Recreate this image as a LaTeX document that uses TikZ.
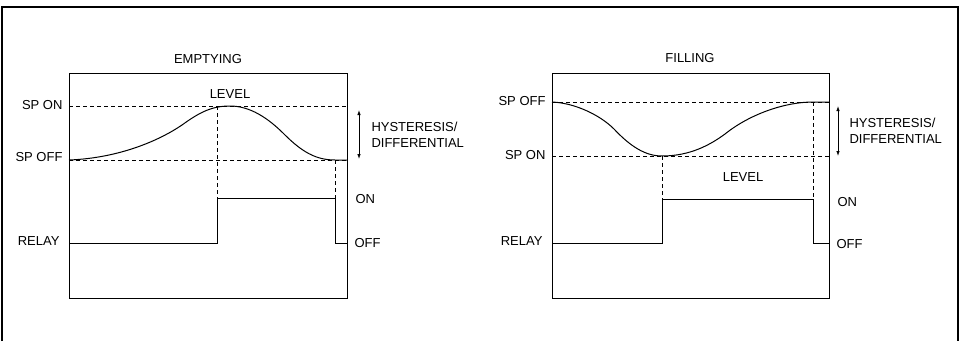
\documentclass[tikz,border=0pt]{standalone}
\usepackage{fontspec}
\setmainfont{Liberation Sans}
\usetikzlibrary{positioning,calc,arrows.meta}

\begin{document}
\begin{tikzpicture}[x=1pt, y=-1pt, line width=1pt,
  lbl/.style={inner sep=0pt, font=\fontsize{13}{16}\selectfont},
  dashline/.style={dash pattern=on 4pt off 3pt, line width=0.9pt},
  hyst/.style={{Latex[length=5pt,width=3.5pt]}-{Latex[length=5pt,width=3.5pt]}, line width=0.8pt}]
\useasboundingbox (0,0) rectangle (964,341);

% outer frame
\draw[line width=2pt] (2,341) -- (2,7) -- (958,7) -- (958,341);

% ---- emptying ----
\draw (69,73) rectangle (347,298);
\node[lbl] (etitle) at (208,59) {EMPTYING};
\node[lbl] (elevel) at (230,94) {LEVEL};
\node[lbl, anchor=east] (espon) at (63,105) {SP ON};
\node[lbl, anchor=east] (espoff) at (63,157) {SP OFF};
\node[lbl, anchor=east] (erelay) at (60,241) {RELAY};
\node[lbl, anchor=west] (eon) at (355,199) {ON};
\node[lbl, anchor=west] (eoff) at (354,243) {OFF};
\node[lbl, anchor=west, align=left] (ehyst) at (371,135) {HYSTERESIS/\\DIFFERENTIAL};

\coordinate (eonl) at (69,106);  \coordinate (eonr) at (347,106);
\coordinate (eoffl) at (69,160); \coordinate (eoffr) at (347,160);
\coordinate (epeak) at (230,106);
\coordinate (elow) at (335,160);
\coordinate (eup) at (217,106);
\coordinate (erise) at (217,198);
\coordinate (efall) at (335,198);
\coordinate (ha) at (359,110); \coordinate (hb) at (359,159);

\draw[dashline] (eonl) -- (eonr);
\draw[dashline] (eoffl) -- (eoffr);
\draw[dashline] (eup) -- (erise);
\draw[dashline] (elow) -- (efall);
\draw (eoffl) .. controls (120,158) and (160,140) .. (182,125)
  .. controls (200,112) and (212,106) .. (epeak)
  .. controls (250,106) and (268,118) .. (284,134)
  .. controls (302,152) and (316,160) .. (elow) -- (eoffr);
\draw (69,243) -- (217,243) -- (erise) -- (efall) -- (335,243) -- (347,243);
\draw[hyst] (ha) -- (hb);

% ---- filling ----
\draw (552,73) rectangle (829,298);
\node[lbl] (ftitle) at (690,58) {FILLING};
\node[lbl] (flevel) at (743,177) {LEVEL};
\node[lbl, anchor=east] (fspoff) at (546,101) {SP OFF};
\node[lbl, anchor=east] (fspon) at (546,155) {SP ON};
\node[lbl, anchor=east] (frelay) at (543,241) {RELAY};
\node[lbl, anchor=west] (fon) at (837,202) {ON};
\node[lbl, anchor=west] (foff) at (836,244) {OFF};
\node[lbl, anchor=west, align=left] (fhyst) at (849,131) {HYSTERESIS/\\DIFFERENTIAL};

\coordinate (foffl) at (552,102); \coordinate (foffr) at (829,102);
\coordinate (fonl) at (552,156);  \coordinate (fonr) at (829,156);
\coordinate (fmin) at (662,156);
\coordinate (ftop) at (813,102);
\coordinate (frise) at (662,199);
\coordinate (ffall) at (813,199);
\coordinate (fa) at (838,106); \coordinate (fb) at (838,156);

\draw[dashline] (foffl) -- (foffr);
\draw[dashline] (fonl) -- (fonr);
\draw[dashline] (fmin) -- (frise);
\draw[dashline] (ftop) -- (ffall);
\draw (foffl) .. controls (575,103) and (600,115) .. (614,129)
  .. controls (630,146) and (645,156) .. (fmin)
  .. controls (690,156) and (710,145) .. (725,134)
  .. controls (750,114) and (785,102) .. (ftop) -- (foffr);
\draw (552,243) -- (662,243) -- (frise) -- (ffall) -- (813,243) -- (829,243);
\draw[hyst] (fa) -- (fb);
\end{tikzpicture}
\end{document}
